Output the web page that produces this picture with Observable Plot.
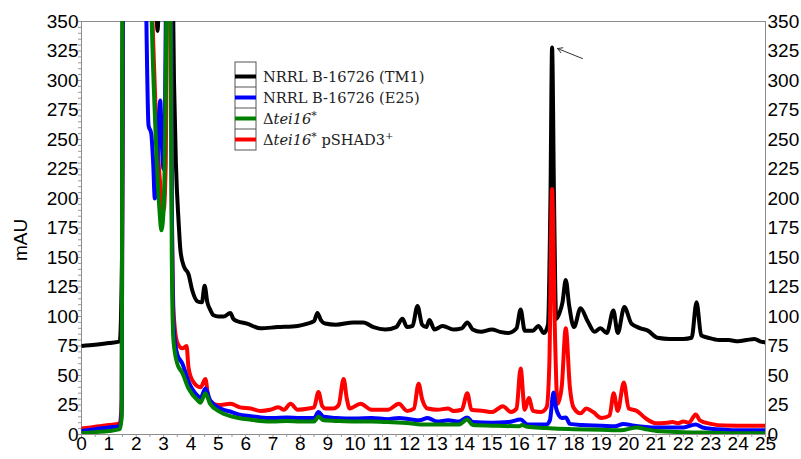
<!DOCTYPE html>
<html><head><meta charset="utf-8">
<script src="https://cdn.jsdelivr.net/npm/d3@7"></script>
<script src="https://cdn.jsdelivr.net/npm/@observablehq/plot@0.6"></script>
<style>body{margin:0;background:#fff}#chart{width:801px;height:459px}</style>
</head><body><div id="chart"></div>
<script>
// ---- data ----
const seriesNames = ["NRRL B-16726 (TM1)", "NRRL B-16726 (E25)", "Δtei16*", "Δtei16* pSHAD3+"];
const seriesColors = ["#000000", "#0000ff", "#008000", "#ff0000"];

const tm1Time = [0,0.5,1.0,1.4,1.48,1.52,1.6,2.0,2.5,2.7,2.78,2.85,3.0,3.3,3.38,3.45,3.55,3.62,3.75,3.91,4.05,4.23,4.4,4.5,4.6,4.7,4.83,5.0,5.2,5.44,5.55,5.7,6.05,6.54,7.16,7.9,8.26,8.5,8.62,8.75,8.9,9.3,9.94,10.3,10.67,11.1,11.5,11.73,11.9,12.1,12.28,12.45,12.6,12.72,12.9,13.2,13.6,13.9,14.1,14.3,14.6,15.0,15.3,15.6,15.9,16.05,16.2,16.5,16.7,16.9,17.05,17.14,17.2,17.27,17.35,17.47,17.58,17.7,17.82,18.0,18.24,18.5,18.75,18.97,19.2,19.44,19.6,19.84,20.1,20.43,20.7,21.05,21.5,22.0,22.3,22.48,22.65,22.9,23.3,23.65,24.0,24.3,24.6,24.8,25.0];
const tm1Value = [75,76,77.5,79,150,450,600,600,600,400,342,400,600,450,300,230,180,155,142,136,122,113,112,126,112,106,101,100,100,103,98,96,94,90,91,92,94,96,103,97,94,93,95,95,91,89,91,98,91,92,109,93,91,97,89,92,89,90,95,89,87,89,87,86,90,106,88,88,92,86,93,200,328,200,98,103,112,131,110,91,107,96,87,90,86,105,86,108,94,90,88,82,81,81,82,112,84,82,80,80,79,80,81,79,78];

const e25Time = [0,0.5,1.0,1.4,1.47,1.52,1.6,2.2,2.34,2.45,2.55,2.62,2.68,2.75,2.8,2.88,2.93,3.0,3.05,3.12,3.25,3.3,3.37,3.5,3.69,3.91,4.24,4.35,4.53,4.7,5.08,5.5,5.74,6.2,6.54,7.0,7.5,8.0,8.5,8.66,8.85,9.3,10.0,10.6,11.2,11.6,12.0,12.35,12.65,13.0,13.4,13.8,14.1,14.3,15.0,15.6,16.05,16.3,17.0,17.12,17.25,17.35,17.45,17.55,17.7,17.85,18.3,19.0,19.5,19.8,20.2,21.0,22.0,22.45,22.7,23.5,24.0,25.0];
const e25Value = [3,4.5,6,7,20,450,600,600,400,262,255,230,200,210,250,283,250,225,270,450,500,200,90,68,60,45,33,31,39,29,22,19,17,15.5,14.5,14,14.5,14,14,19,15,14,13.5,14,13,14,13,12,14,11,12,11,14.5,10.5,10,10.5,12.7,8.5,8.5,12,35.5,22,16,14,14.5,9,8,7.5,7,9,7.5,6,6,8.5,6,4,3.5,3.5];

const tei16Time = [0,0.5,1.0,1.4,1.47,1.5,1.6,2.4,2.52,2.7,2.85,2.92,3.0,3.08,3.14,3.2,3.25,3.3,3.36,3.5,3.69,3.91,4.24,4.35,4.53,4.7,5.08,5.74,6.2,6.54,7.0,7.5,8.0,8.5,8.66,8.85,9.3,10.0,10.6,11.2,12.0,12.4,13.0,13.8,14.1,14.3,15.0,16.0,16.1,16.3,17.0,17.3,18.0,19.0,19.7,20.3,20.6,21.0,22.0,23.0,24.0,25.0];
const tei16Value = [1,2,3,4.5,15,450,600,600,400,260,190,173,190,300,450,500,400,150,80,60,52,39,29,27,35,26,19,14,12.5,11.5,11,11.5,11,11,15,12,11.5,11,11,10.5,9.5,8.5,8.5,8.5,12.7,8,7.5,7,8,6.5,5.5,5,4.5,4,3.5,6,4.5,3,2,1.5,1,1];

const pshadTime = [0,0.5,1.0,1.4,1.47,1.52,1.6,2.3,2.52,2.7,2.85,3.0,3.08,3.14,3.25,3.3,3.37,3.5,3.69,3.84,3.91,4.05,4.35,4.53,4.64,4.83,5.0,5.45,5.8,6.18,6.54,6.9,7.2,7.4,7.64,7.9,8.3,8.5,8.66,8.8,8.92,9.2,9.4,9.58,9.7,9.8,10.2,10.6,11.2,11.6,11.9,12.15,12.32,12.45,12.65,13.0,13.4,13.6,13.9,14.1,14.25,14.7,15.0,15.4,15.7,15.9,16.05,16.2,16.35,16.5,16.8,17.0,17.1,17.2,17.3,17.4,17.55,17.7,17.85,17.98,18.24,18.45,18.7,19.0,19.3,19.45,19.6,19.82,20.0,20.3,20.6,21.0,21.4,21.6,21.8,22.0,22.2,22.45,22.6,23.0,23.5,24.0,24.5,25.0];
const pshadValue = [5,6.5,8,9.5,30,450,600,600,400,280,220,190,230,400,500,200,102,78,73,75,57,46,40,47,31,26,25,26,23,22,20,21,23,21,26,21,22,23,36,24,22,22,25,47,30,22,26,21,21,26,20,22,43,30,22,21,22,20,21,35,21,20,19,24,19,22,56,21,31,20,19,23,60,208,90,26,40,90,40,23,18,22,19,14,16,35,20,44,22,20,14,9.5,10,10.5,9.5,11,10,17,12,9,7.6,7.5,7.5,7.5];

const xTickValues = [0,1,2,3,4,5,6,7,8,9,10,11,12,13,14,15,16,17,18,19,20,21,22,23,24,25];
const yTickValues = [0,25,50,75,100,125,150,175,200,225,250,275,300,325,350];
const yAxisLabel = "mAU";

// annotation arrow (time, mAU)
const arrowFrom = [18.31, 318.6];
const arrowTo = [17.40, 327.1];

// ---- build ----
const seriesTimes = [tm1Time, e25Time, tei16Time, pshadTime];
const seriesValues = [tm1Value, e25Value, tei16Value, pshadValue];
const rowsFor = i => seriesTimes[i].map((t, j) => ({series: seriesNames[i], t, v: seriesValues[i][j]}));
const drawOrder = [0, 3, 1, 2];

const W = 801, H = 459;
const mL = 81, mR = 36, mT = 21, mB = 25;
const minorX = d3.range(0, 25.01, 0.5);
const minorY = d3.range(0, 350.1, 5);

const plot = Plot.plot({
  width: W, height: H,
  marginLeft: mL, marginRight: mR, marginTop: mT, marginBottom: mB,
  style: {fontFamily: "'Liberation Sans', Arial, sans-serif", fontSize: "19px", color: "#000", background: "#fff", overflow: "visible"},
  x: {domain: [0, 25]},
  y: {domain: [0, 350]},
  color: {domain: seriesNames, range: seriesColors},
  marks: [
    Plot.frame({stroke: "#8c8c8c"}),
    Plot.axisX({ticks: minorX, tickSize: 3, tickFormat: () => "", stroke: "#9a9a9a"}),
    Plot.axisY({ticks: minorY, tickSize: 3, tickFormat: () => "", stroke: "#9a9a9a", label: null}),
    Plot.axisX({ticks: xTickValues, tickSize: 0, tickPadding: 2, label: null, fill: "#000"}),
    Plot.axisY({ticks: yTickValues, tickSize: 0, tickPadding: 3, label: null, fill: "#000"}),
    Plot.axisY({anchor: "right", ticks: yTickValues, tickSize: 0, tickPadding: 2, label: null, fill: "#000"}),
    ...drawOrder.map(i => Plot.line(rowsFor(i), {x: "t", y: "v", stroke: seriesColors[i], strokeWidth: 4, strokeLinejoin: "round", strokeLinecap: "butt", curve: "monotone-x", clip: true})),
    Plot.arrow([{x1: arrowFrom[0], y1: arrowFrom[1], x2: arrowTo[0], y2: arrowTo[1]}], {x1: "x1", y1: "y1", x2: "x2", y2: "y2", stroke: "#333", strokeWidth: 1, headLength: 8, bend: 0})
  ]
});

const svg = d3.select(plot);
// y-axis title
svg.append("text")
  .attr("transform", "translate(27,240) rotate(-90)")
  .attr("text-anchor", "middle")
  .attr("font-family", "'Liberation Sans', Arial, sans-serif")
  .attr("font-size", 19)
  .attr("fill", "#000")
  .text(yAxisLabel);

// legend
const lg = svg.append("g").attr("font-family", "'DejaVu Serif', serif").attr("font-size", 14.6).attr("fill", "#222").attr("text-anchor", "start");
const lx = 235, lw = 21, ly = 66, lh = 21;
lg.append("rect").attr("x", lx).attr("y", ly - 4).attr("width", lw).attr("height", lh * 4 + 4).attr("fill", "#fff").attr("stroke", "#555").attr("stroke-width", 1);
seriesNames.forEach((name, i) => {
  const cy = ly + lh * i + lh / 2;
  if (i > 0) lg.append("line").attr("x1", lx).attr("x2", lx + lw).attr("y1", ly + lh * i).attr("y2", ly + lh * i).attr("stroke", "#555").attr("stroke-width", 1);
  lg.append("line").attr("x1", lx).attr("x2", lx + lw).attr("y1", cy).attr("y2", cy).attr("stroke", seriesColors[i]).attr("stroke-width", 4);
  const t = lg.append("text").attr("x", 263).attr("y", cy + 5.5).attr("text-anchor", "start");
  const m = name.match(/^Δ(tei16)(\*)(.*)$/);
  if (m) {
    t.append("tspan").text("Δ");
    t.append("tspan").attr("font-style", "italic").text(m[1]);
    t.append("tspan").attr("dy", -5).attr("font-size", 11).text("*");
    let rest = m[3];
    if (rest) {
      const plus = rest.endsWith("+");
      t.append("tspan").attr("dy", 5).text(plus ? rest.slice(0, -1) : rest);
      if (plus) t.append("tspan").attr("dy", -6).attr("font-size", 10).text("+");
    }
  } else {
    t.text(name);
  }
});

document.getElementById("chart").append(plot);
</script>
</body></html>
